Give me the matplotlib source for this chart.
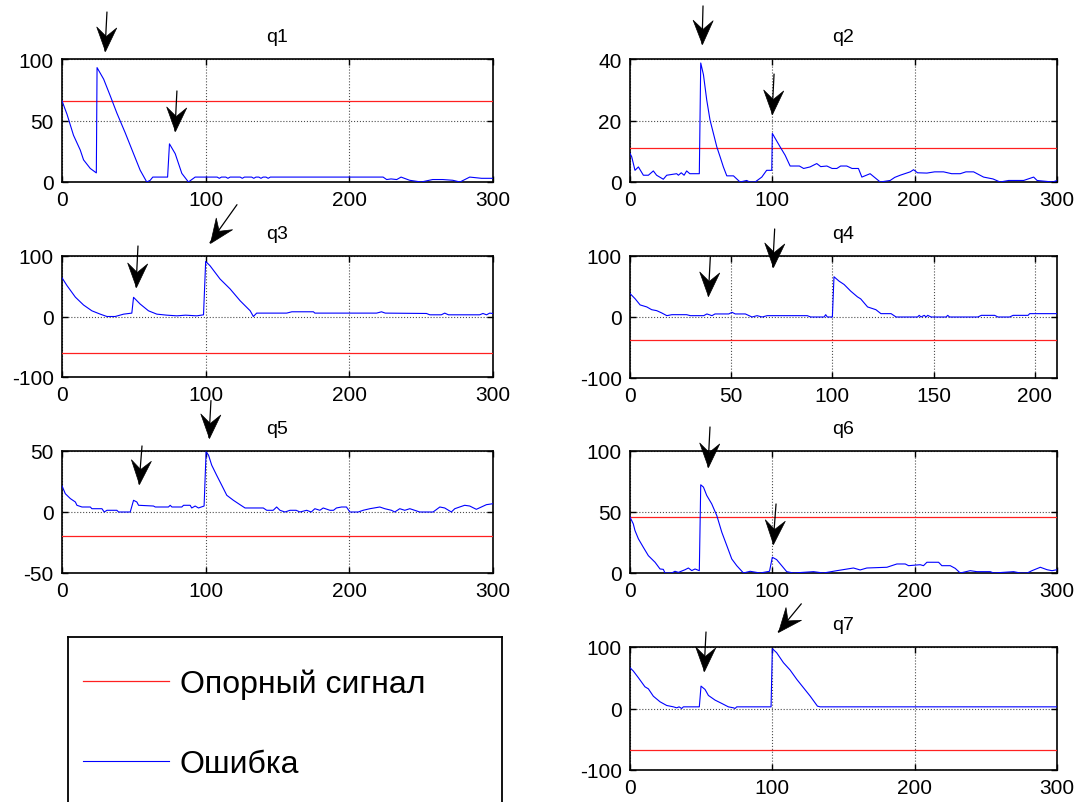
import numpy as np
import matplotlib.pyplot as plt
from matplotlib.path import Path

plt.rcParams['font.family'] = ['Liberation Sans', 'DejaVu Sans']
plt.rcParams['axes.unicode_minus'] = False

# error curves, (step, value) vertices
q1_pts = [(0, 66), (3.5, 55), (8, 38), (12.7, 26), (15, 18), (19.7, 11), (23.9, 7.4),
          (24.4, 93), (29, 83.6), (33.6, 70), (38.2, 56), (44, 40), (49.8, 23), (54.4, 9.6),
          (59, 0), (61.4, 1.4), (63.2, 4), (73.5, 4), (74.8, 31), (78.8, 23), (83.4, 7),
          (88, 0), (92.7, 4), (108, 4), (109.5, 3), (111, 4), (114, 4), (115.5, 3), (117, 4),
          (124, 4), (125.5, 3), (127, 4), (132, 4), (133.5, 3), (135, 4), (137, 4), (138.5, 3),
          (140, 4), (142, 4), (143.5, 3), (145, 4), (223.5, 4), (226, 2), (229, 2.5), (233, 2),
          (236, 4), (242, 1.4), (250, 0), (258, 2), (265, 2), (272, 1.4), (277, 0),
          (283.8, 4), (292, 3), (300, 3)]
q2_pts = [(0, 9.3), (1.2, 8.2), (3.5, 3.8), (5.9, 4.9), (9.4, 2.2), (12.9, 2.2), (16.4, 3.6),
          (18.7, 2.2), (23.4, 0.9), (25.8, 2.2), (32.8, 2.7), (34, 2.2), (36, 3), (38, 2.2),
          (39.8, 3.6), (42, 2.7), (48.7, 2.7), (49.7, 38.7), (51.6, 34.9), (53.9, 26.7),
          (56.2, 20.2), (58.6, 15.8), (61, 11.4), (63.3, 8.2), (65.6, 4.9), (68, 2), (72.7, 2),
          (77.3, 0), (82, 0.5), (84, 0), (87.9, 0), (92.6, 1.6), (96, 3.8), (99.6, 3.8),
          (100, 15.8), (102, 14.2), (105.5, 11.4), (109, 8.7), (112.5, 5.2), (119, 5.2),
          (122, 4.4), (126.5, 4.9), (131.2, 6), (134, 5), (138.3, 5.2), (142, 4.4), (145.3, 4.4),
          (148, 5.2), (152.3, 5.2), (156, 4.4), (160.5, 4.4), (162.9, 1.6), (168.7, 2.7),
          (175.8, 0), (182.8, 0.5), (186, 1.5), (189.8, 2.2), (196.9, 3.3), (199.2, 4), (202, 3),
          (208.6, 2.9), (214, 3.3), (220.3, 3.3), (226, 2.7), (232, 2.7), (236, 3.3),
          (241.4, 3.3), (248.4, 1.6), (255, 1), (260, 0), (266, 0.5), (276.6, 0.5),
          (283.6, 1.6), (286, 0.5), (297, 0), (300, 0.5)]
q3_pts = [(0, 64), (3.5, 51), (9.3, 32), (15, 19), (20.8, 9.4), (26.6, 3.9), (31.3, 0), (37, 0),
          (42.9, 3.9), (48.6, 5.6), (49.8, 31.7), (54.4, 20.6), (60.2, 9.4), (66, 3.9), (73, 2.2),
          (80, 1.1), (86, 2.2), (93.8, 1.1), (98.5, 2.8), (100, 91), (103, 84), (110, 62),
          (117, 45.6), (124, 26), (131, 9.4), (133.2, 0), (135.5, 5.6), (156.4, 5.6), (160, 7.8),
          (175, 7.8), (176, 5.6), (219, 5.6), (222.4, 7.8), (225, 5.6), (253.7, 5), (256, 2.8),
          (264, 2.8), (266.4, 5.6), (269, 2.8), (290.7, 2.8), (293, 5), (295.5, 2.8),
          (297.7, 5.6), (300, 5)]
q4_pts = [(0, 38.5), (2.5, 30), (5, 19.8), (8.3, 16.5), (10.7, 12), (13.2, 10.4), (15.7, 6.6),
          (18.2, 2.2), (20.7, 3.8), (28, 3.8), (29.8, 2.2), (36.4, 2.2), (38, 5), (40.5, 2.2),
          (42, 5), (48.8, 5), (50.4, 7.7), (52, 5), (57, 5), (60.3, 0), (62.8, 2.2), (65.3, 0),
          (67.8, 2.2), (87.6, 2.2), (89.3, 0), (95.9, 0), (96.7, 3.8), (97.5, 0), (100, 0),
          (100.8, 66), (103.3, 58.8), (105.8, 53.3), (109.1, 42.3), (112.4, 33), (114, 29.7),
          (117.4, 16.5), (121.5, 12), (124, 5.5), (129, 5.5), (131.5, 0), (142.1, 0),
          (142.9, 2.7), (143.8, 0), (145.4, 2.7), (146.3, 0), (147.1, 2.7), (148.8, 0),
          (156.2, 0), (157, 2.7), (157.9, 0), (171.9, 0), (173.6, 2.7), (180.2, 2.7),
          (181.8, 0), (187.6, 0), (189.3, 2.7), (196.7, 2.7), (197.5, 5.5), (211, 5.5)]
q5_pts = [(0, 21.4), (2.3, 15), (5.8, 11), (9.3, 8.2), (10.4, 5.5), (13.9, 4.1), (19.7, 4.1),
          (20.8, 2.7), (27.8, 2.7), (29.4, 0), (31.3, 1.4), (38.2, 1.4), (39.4, 0), (47.5, 0),
          (49.8, 9.6), (52.1, 8.2), (53.3, 5.5), (63.7, 4.9), (64.9, 4.1), (74.1, 4.1),
          (75.3, 5.5), (76.5, 4.1), (83.4, 4.1), (84.6, 5.5), (89.2, 5.5), (90.3, 3.3),
          (92.7, 4.9), (95, 3.3), (98.9, 4.9), (100.3, 49.3), (102, 46.6), (104.2, 38.4),
          (107.7, 30), (111.2, 21.9), (114.7, 13.7), (119.3, 9.6), (123.9, 6), (127.4, 3.3),
          (140.1, 3.3), (142.5, 1.4), (147, 1.4), (149.4, 4.1), (151.7, 1.4), (155.2, 0),
          (158.7, 1.4), (163, 1.4), (165.6, 0), (170.3, 1.4), (173.5, 0), (176, 2.7),
          (179.5, 1.4), (181.8, 3.3), (186.5, 1.4), (189, 1.4), (191, 3.3), (194.6, 4.1),
          (198, 4.1), (200.4, 0), (206.2, 0), (209.6, 1.4), (214.3, 2.7), (221.2, 4.1),
          (224.7, 2.7), (229.3, 1.4), (231.6, 0), (235.1, 2.7), (238.6, 1.4), (242.1, 2.7),
          (245.5, 1.4), (249, 0), (258.3, 0), (263, 4.1), (266.4, 3.3), (271, 0), (273.4, 2.7),
          (276.8, 4.1), (280.3, 5.5), (283.8, 4.9), (288.4, 2.2), (291.9, 4.1), (295.4, 6),
          (300, 6.8)]
q6_pts = [(0, 45.8), (2.3, 40.3), (3.5, 34.8), (5.9, 28), (9.4, 21), (12.9, 14.2), (17.6, 8.8),
          (21.1, 3.3), (23.4, 3), (24.6, 0), (29.3, 0), (31.6, 1.4), (34, 0.5), (38.7, 2.7),
          (41, 4.1), (43.4, 2), (45.7, 3.3), (48.7, 1.9), (49.7, 72.3), (51.6, 70.4),
          (53.9, 63.6), (57.4, 56.7), (61, 47), (64.5, 33.4), (68, 22.5), (71.5, 11.5), (75, 6),
          (79.7, 0), (84.4, 1.4), (91.4, 0), (98, 1.4), (100, 12.9), (103, 11), (106.6, 6),
          (110.1, 1.1), (114.8, 0), (128.9, 1.1), (135.9, 0), (145.3, 1.9), (157, 4.1),
          (161.7, 2.5), (166.4, 4.1), (180.5, 4.7), (187.5, 7.4), (193.4, 7.4), (195.7, 6),
          (203.9, 6.8), (206.2, 6), (208.6, 8.8), (216.8, 8.8), (219.1, 6), (225, 6),
          (228.5, 3.8), (232, 0), (239, 1.9), (243.7, 1.1), (253.1, 1.1), (255.5, 0),
          (269.5, 1.1), (274.2, 0), (279, 0), (282.4, 1.9), (288.3, 4.7), (293, 2.7),
          (296.5, 1.9), (300, 2.7)]
q7_pts = [(0, 66.3), (2.3, 61), (5.9, 50), (10.5, 35.3), (12.9, 32), (16.4, 20), (21.1, 10.9),
          (25.8, 4.9), (30.5, 2.7), (32.8, 1.1), (34.5, 2.7), (36.3, 0), (37.5, 2.7), (48.7, 2.7),
          (49.9, 36.4), (52.7, 31), (55.1, 21.2), (59.8, 13.6), (64.5, 8.2), (69.1, 2.7),
          (72.7, 1.1), (73.8, 0), (75, 2.7), (99.1, 2.7), (100, 97.3), (103, 90.8), (107.8, 74.5),
          (112.5, 62.5), (117.2, 47.3), (121.9, 33.7), (126.6, 20.1), (131.7, 3.8), (133.6, 2.7),
          (300, 2.7)]

titles = ['q1', 'q2', 'q3', 'q4', 'q5', 'q6', 'q7']
ref_levels = [65.5, 11.2, -61, -37.5, -20, 46, -67]
ylims = [(0, 100), (0, 40), (-100, 100), (-100, 100), (-50, 50), (0, 100), (-100, 100)]
yticks = [[0, 50, 100], [0, 20, 40], [-100, 0, 100], [-100, 0, 100], [-50, 0, 50],
          [0, 50, 100], [-100, 0, 100]]
xlims = [(0, 300)] * 3 + [(0, 211)] + [(0, 300)] * 3
xticks = [[0, 100, 200, 300]] * 3 + [[0, 50, 100, 150, 200]] + [[0, 100, 200, 300]] * 3
legend_labels = ['Опорный сигнал', 'Ошибка']

# arrows: (tip x, tip y) in data units, tail offset in pixels
arrows = [
    [(29.9, 106.5, 2, 39), (78.6, 41.5, 2, 40)],
    [(50.6, 44.9, 1, 38), (99.8, 22.1, 2, 40)],
    [(51.5, 48.8, 2, 41), (103, 122, 27, 38)],
    [(38.7, 34.4, 2, 39), (70.5, 82, 2, 38)],
    [(53.6, 23, 3, 38), (102.3, 61, 2, 37)],
    [(54.8, 86.9, 2, 40), (100.5, 23.8, 3, 40)],
    [(52, 61, 2, 39), (104.2, 124.7, 23, 28)],
]

W, H = 1088, 803
fig = plt.figure(figsize=(W / 100, H / 100), dpi=100)


def px_axes(left, top, right, bottom):
    return fig.add_axes([left / W, 1 - bottom / H, (right - left) / W, (bottom - top) / H])


def draw_arrow(ax, tx, ty, dx, dy):
    ax.annotate('', xy=(tx, ty), xytext=(dx, dy), textcoords='offset pixels',
                arrowprops=dict(arrowstyle='-', lw=0.9, color='k', shrinkA=0, shrinkB=0),
                annotation_clip=False)
    # notched arrow head, pointing from tail to tip
    ang = np.arctan2(-dy, -dx)
    head = np.array([[0, 0], [-24, 10], [-15, 0], [-24, -10], [0, 0]], dtype=float)
    rot = np.array([[np.cos(ang), -np.sin(ang)], [np.sin(ang), np.cos(ang)]])
    head = head @ rot.T
    scale = np.abs(head).max()
    ax.plot(tx, ty, marker=Path(head, closed=True), ms=2 * scale * 0.72, color='k',
            mec='k', mew=0.5, clip_on=False, zorder=5)


rects = [(62, 60, 493, 183), (630, 60, 1057, 183),
         (62, 257, 493, 378), (630, 257, 1057, 379),
         (62, 452, 493, 574), (630, 452, 1057, 574),
         (630, 648, 1057, 771)]
all_pts = [q1_pts, q2_pts, q3_pts, q4_pts, q5_pts, q6_pts, q7_pts]

handles = None
for i, pts in enumerate(all_pts):
    ax = px_axes(*rects[i])
    x, y = zip(*pts)
    ref_line = ax.axhline(ref_levels[i], color='#ff2020', lw=0.9, zorder=3)
    err_line, = ax.plot(x, y, color='#0000ff', lw=0.8, zorder=4)
    if handles is None:
        handles = [ref_line, err_line]
    ax.set_xlim(*xlims[i])
    ax.set_ylim(*ylims[i])
    ax.set_xticks(xticks[i])
    ax.set_yticks(yticks[i])
    ax.grid(True, color='0.3', linestyle=':', lw=0.8)
    ax.tick_params(direction='in', top=True, right=True, length=4, width=1,
                   labelsize=15, pad=6)
    for s in ax.spines.values():
        s.set_linewidth(1.2)
    ax.set_title(titles[i], fontsize=14, pad=13)
    for a in arrows[i]:
        draw_arrow(ax, *a)

ax_leg = px_axes(68, 638, 502, 830)
ax_leg.set_xticks([])
ax_leg.set_yticks([])
for s in ax_leg.spines.values():
    s.set_linewidth(1.3)
ax_leg.legend(handles, legend_labels, loc='upper left', bbox_to_anchor=(0.035, 0.835),
              frameon=False, fontsize=23, handlelength=2.7, handletextpad=0.33,
              labelspacing=1.55, borderpad=0, borderaxespad=0)

fig.savefig('out.png', dpi=100)
